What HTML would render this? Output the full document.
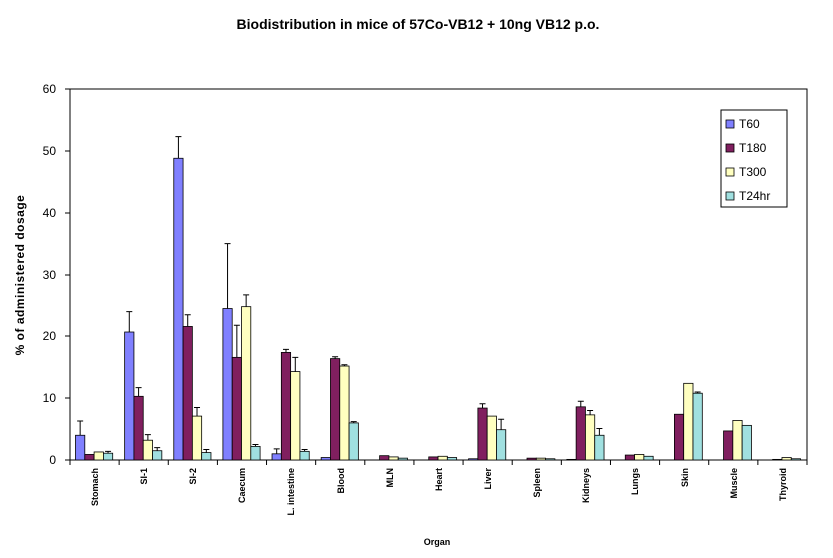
<!DOCTYPE html>
<html><head><meta charset="utf-8"><style>
html,body{margin:0;padding:0;background:#fff;}
svg{display:block;font-family:"Liberation Sans",Arial,sans-serif;}
</style></head><body>
<svg id="s" width="833" height="558" viewBox="0 0 833 558">
<text x="418" y="29" text-anchor="middle" font-size="14" font-weight="bold">Biodistribution in mice of 57Co-VB12 + 10ng VB12 p.o.</text>
<rect x="70" y="89" width="737" height="371" fill="none" stroke="#000" stroke-width="1"/>
<path d="M65 89H70M65 151H70M65 213H70M65 275H70M65 336H70M65 398H70M65 460H70" stroke="#000"/>
<g font-size="12" text-anchor="end">
<text x="56" y="93">60</text><text x="56" y="155">50</text><text x="56" y="217">40</text>
<text x="56" y="279">30</text><text x="56" y="340">20</text><text x="56" y="402">10</text><text x="56" y="464">0</text>
</g>
<text transform="translate(24,275) rotate(-90)" text-anchor="middle" font-size="12" font-weight="bold" letter-spacing="0.5">% of administered dosage</text>
<g font-size="9" font-weight="bold" text-anchor="end" id="xl">
<text transform="translate(98,468) rotate(-90)">Stomach</text>
<text transform="translate(147,468) rotate(-90)">SI-1</text>
<text transform="translate(196,468) rotate(-90)">SI-2</text>
<text transform="translate(245,468) rotate(-90)">Caecum</text>
<text transform="translate(294,468) rotate(-90)">L. intestine</text>
<text transform="translate(344,468) rotate(-90)">Blood</text>
<text transform="translate(393,468) rotate(-90)">MLN</text>
<text transform="translate(442,468) rotate(-90)">Heart</text>
<text transform="translate(491,468) rotate(-90)">Liver</text>
<text transform="translate(540,468) rotate(-90)">Spleen</text>
<text transform="translate(589,468) rotate(-90)">Kidneys</text>
<text transform="translate(638,468) rotate(-90)">Lungs</text>
<text transform="translate(688,468) rotate(-90)">Skin</text>
<text transform="translate(737,468) rotate(-90)">Muscle</text>
<text transform="translate(786,468) rotate(-90)">Thyroid</text>
</g>
<text x="437" y="545" text-anchor="middle" font-size="9" font-weight="bold">Organ</text>
<g id="bars"></g>
<rect x="721" y="110" width="66" height="97" fill="#fff" stroke="#000"/>
<rect x="726" y="120" width="8" height="8" fill="#8080ff" stroke="#000" stroke-width="0.8"/>
<rect x="726" y="144" width="8" height="8" fill="#801f5f" stroke="#000" stroke-width="0.8"/>
<rect x="726" y="168" width="8" height="8" fill="#ffffc0" stroke="#000" stroke-width="0.8"/>
<rect x="726" y="192" width="8" height="8" fill="#a0e0e0" stroke="#000" stroke-width="0.8"/>
<g font-size="12"><text x="739" y="128">T60</text><text x="739" y="152">T180</text><text x="739" y="176">T300</text><text x="739" y="200">T24hr</text></g>
</svg>
<script>
var d=[[[4,6.3],[0.9],[1.3],[1.1,1.4]],[[20.7,24],[10.3,11.7],[3.2,4.1],[1.5,2]],[[48.8,52.3],[21.6,23.5],[7.1,8.5],[1.2,1.7]],
[[24.5,35],[16.6,21.8],[24.8,26.7],[2.2,2.5]],[[1,1.8],[17.4,17.9],[14.3,16.6],[1.4,1.7]],[[0.4],[16.4,16.7],[15.2,15.4],[6,6.2]],
[[0],[0.7],[0.5],[0.3]],[[0],[0.5],[0.6],[0.4]],[[0.2],[8.4,9.1],[7.1],[4.9,6.6]],[[0],[0.3],[0.3],[0.2]],
[[0.1],[8.6,9.5],[7.3,8],[4,5.1]],[[0],[0.8],[0.9],[0.6]],[[0],[7.4],[12.4],[10.8,11]],[[0],[4.7],[6.4],[5.6]],[[0],[0.1],[0.4],[0.2]]];
var c=["#8080ff","#801f5f","#ffffc0","#a0e0e0"],h="",cw=737/15,bw=9.3,Y=function(v){return 460-v*6.183};
for(var i=0;i<15;i++){var x0=70+i*cw;h+='<line x1="'+x0+'" y1="460" x2="'+x0+'" y2="465" stroke="#000"/>';
for(var j=0;j<4;j++){var v=d[i][j][0],x=x0+5.5+j*bw;if(v>0){h+='<rect x="'+x+'" y="'+Y(v)+'" width="'+bw+'" height="'+(460-Y(v))+'" fill="'+c[j]+'" stroke="#000" stroke-width="0.8"/>';}
if(d[i][j][1]){var m=x+bw/2;h+='<path d="M'+m+' '+Y(v)+'V'+Y(d[i][j][1])+'M'+(m-3)+' '+Y(d[i][j][1])+'H'+(m+3)+'" stroke="#000" stroke-width="1" fill="none"/>';}}}
h+='<line x1="807" y1="460" x2="807" y2="465" stroke="#000"/>';
document.getElementById("bars").innerHTML=h;
</script>
</body></html>
